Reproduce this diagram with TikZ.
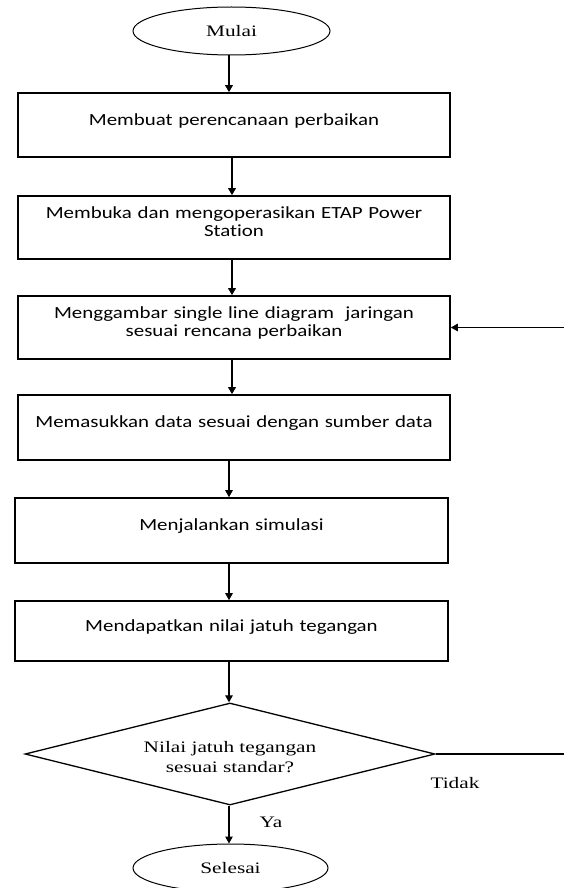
\documentclass[tikz,border=0pt]{standalone}
\usepackage{fontspec}
\setmainfont[FakeStretch=1.33]{Liberation Serif}
\newfontfamily\boxfont[FakeStretch=1.23,Ligatures=NoCommon]{Carlito}
\usetikzlibrary{shapes.geometric,arrows.meta}
\tikzset{
  procbox/.style={draw, line width=1.6pt, inner sep=0pt, text width=420pt, align=center,
    font=\boxfont\fontsize{17}{18}\selectfont},
  oneline/.style={text height=11pt, text depth=11pt},
  twoline/.style={text height=11pt, text depth=30pt},
  term/.style={draw, ellipse, line width=1pt, inner sep=0pt, font=\fontsize{16}{20}\selectfont},
  decide/.style={draw, diamond, aspect=4, line width=1.3pt, inner sep=0pt, align=center,
    minimum width=410pt, minimum height=102pt, font=\fontsize{16}{20}\selectfont,
    text height=40pt, text depth=4pt},
  lbl/.style={inner sep=0pt, font=\fontsize{16}{20}\selectfont},
  arrthick/.style={line width=1.8pt, -{Triangle[length=7pt,width=7.5pt]}},
  arrthin/.style={line width=1.1pt, -{Triangle[length=7pt,width=7.5pt]}}
}
\begin{document}
\begin{tikzpicture}[x=1pt,y=-1pt]
\useasboundingbox (0,0) rectangle (563,888);
\node[term, minimum width=197pt, minimum height=48pt] (m) at (231.5,31) {Mulai};
\node[procbox, oneline, minimum width=432pt, minimum height=64pt] (b1) at (234,125) {Membuat perencanaan perbaikan};
\node[procbox, twoline, minimum width=432pt, minimum height=63pt] (b2) at (234,227.5) {Membuka dan mengoperasikan ETAP Power\\Station};
\node[procbox, twoline, minimum width=432pt, minimum height=63pt] (b3) at (234,327.5) {Menggambar single line diagram \ jaringan\\sesuai rencana perbaikan};
\node[procbox, oneline, minimum width=432pt, minimum height=65pt] (b4) at (234,427.5) {Memasukkan data sesuai dengan sumber data};
\node[procbox, oneline, minimum width=433pt, minimum height=65pt] (b5) at (231.5,530.5) {Menjalankan simulasi};
\node[procbox, oneline, minimum width=433pt, minimum height=60pt] (b6) at (231.5,631) {Mendapatkan nilai jatuh tegangan};
\node[decide] (d) at (230,754) {Nilai jatuh tegangan\\sesuai standar?};
\node[term, minimum width=195pt, minimum height=48pt] (s) at (230.5,868) {Selesai};
\node[lbl] (ya) at (271,822) {Ya};
\node[lbl] (tidak) at (455,783) {Tidak};
\coordinate (r1) at (567,754);

\draw[arrthick] ([xshift=-2.5pt]m.south) -- ([xshift=-5pt]b1.north);
\draw[arrthick] ([xshift=-2pt]b1.south) -- ([xshift=-2pt]b2.north);
\draw[arrthick] ([xshift=-2pt]b2.south) -- ([xshift=-2pt]b3.north);
\draw[arrthick] ([xshift=-2pt]b3.south) -- ([xshift=-2pt]b4.north);
\draw[arrthin] ([xshift=-5pt]b4.south) -- ([xshift=-2.5pt]b5.north);
\draw[arrthin] ([xshift=-2.5pt]b5.south) -- ([xshift=-2.5pt]b6.north);
\draw[arrthin] ([xshift=-2.5pt]b6.south) -- ([xshift=-1pt]d.north);
\draw[arrthin] ([xshift=-1pt]d.south) -- ([xshift=-1.5pt]s.north);
\draw[line width=1.2pt, -{Triangle[length=7pt,width=7.5pt]}] (d.east) -- (r1) |- (b3.east);
\end{tikzpicture}
\end{document}
